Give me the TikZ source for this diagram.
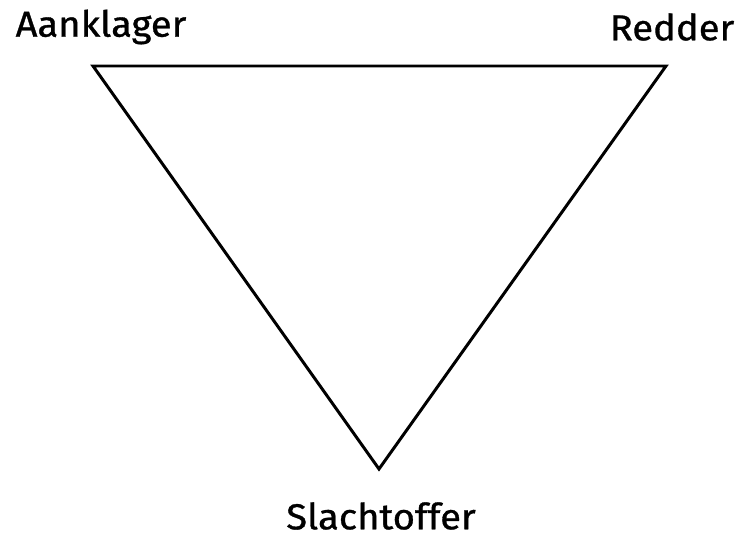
\documentclass[tikz,border=0pt]{standalone}
\usepackage{fontspec}
\setmainfont{Fira Sans}[FakeStretch=1.06, FakeBold=0.9]
\usetikzlibrary{positioning}
\tikzset{
  % etichetta di un ruolo
  ruolo/.style={font=\fontsize{20.5}{22}\selectfont, inner sep=0pt},
  % lato del triangolo
  lato/.style={line width=1.7pt, black, line join=miter},
}

\begin{document}
\begin{tikzpicture}[x=0.02cm, y=-0.02cm]
  \useasboundingbox (0,0) rectangle (740,540);
  % vertici
  \coordinate (a) at (93,66);
  \coordinate (r) at (666,66);
  \coordinate (s) at (379,469);
  % ruoli
  \node[ruolo] (aank) at (101,27) {Aanklager};
  \node[ruolo] (redd) at (672,27) {Redder};
  \node[ruolo] (slacht) at (381,516) {Slachtoffer};
  % triangolo
  \draw[lato] (a) -- (r) -- (s) -- cycle;
\end{tikzpicture}
\end{document}
